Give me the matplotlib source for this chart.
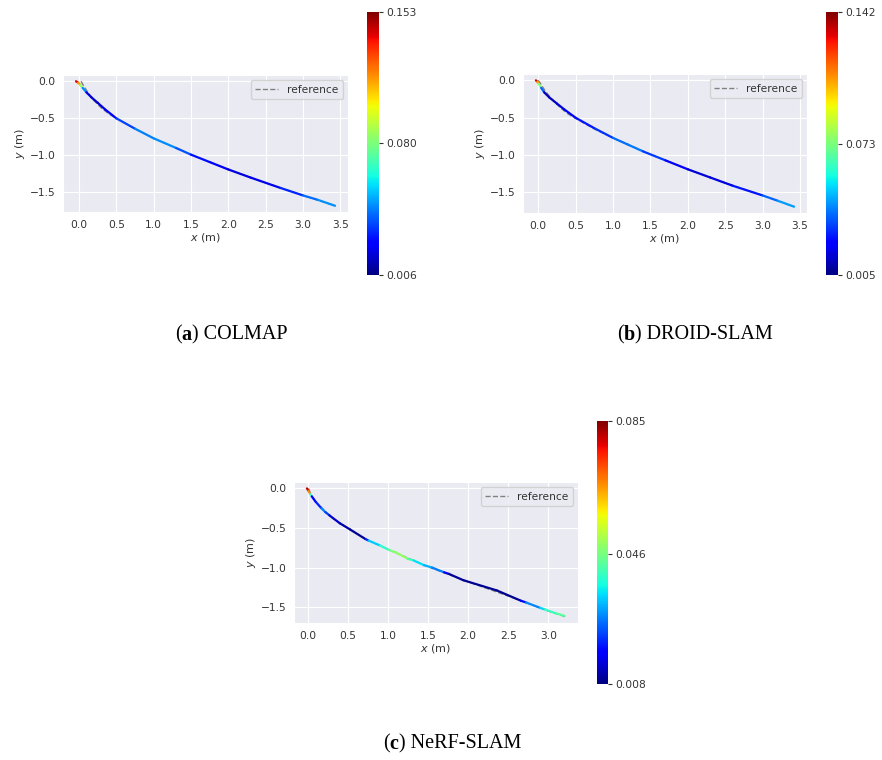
import numpy as np
import matplotlib
matplotlib.use("Agg")
import matplotlib.pyplot as plt
import seaborn as sns
from matplotlib.collections import LineCollection
from matplotlib.colors import Normalize
from matplotlib.cm import ScalarMappable

sns.set_style("darkgrid")
plt.rcParams['font.family'] = ['DejaVu Sans']

# ---------------- data ----------------
# (a) COLMAP
a_x = [-0.04, -0.01, 0.02, 0.05, 0.10, 0.17, 0.25, 0.35, 0.50, 0.75, 1.00, 1.30, 1.50, 1.75, 2.00, 2.30, 2.70, 3.00, 3.20, 3.43]
a_y = [0.00, -0.02, -0.05, -0.09, -0.15, -0.22, -0.29, -0.38, -0.50, -0.64, -0.77, -0.90, -0.99, -1.09, -1.19, -1.30, -1.44, -1.54, -1.60, -1.68]
a_err = [0.153, 0.13, 0.10, 0.07, 0.020, 0.015, 0.016, 0.020, 0.028, 0.040, 0.046, 0.044, 0.028, 0.025, 0.022, 0.015, 0.025, 0.035, 0.045, 0.046]
a_ref_x = [0.03, 0.05, 0.08, 0.12, 0.20, 0.30, 0.40, 0.50, 0.75, 1.00, 1.50, 2.00, 2.50, 3.00, 3.43]
a_ref_y = [0.00, -0.04, -0.09, -0.15, -0.26, -0.36, -0.44, -0.50, -0.64, -0.77, -0.99, -1.19, -1.37, -1.54, -1.68]
a_cbar = [0.006, 0.080, 0.153]

# (b) DROID-SLAM
b_x = [-0.03, -0.01, 0.01, 0.04, 0.08, 0.15, 0.25, 0.35, 0.50, 0.75, 1.00, 1.20, 1.40, 1.70, 2.00, 2.30, 2.60, 3.00, 3.20, 3.42]
b_y = [0.00, -0.02, -0.05, -0.10, -0.16, -0.23, -0.31, -0.39, -0.50, -0.64, -0.77, -0.86, -0.95, -1.07, -1.19, -1.30, -1.41, -1.54, -1.61, -1.69]
b_err = [0.142, 0.12, 0.09, 0.06, 0.012, 0.012, 0.014, 0.018, 0.024, 0.026, 0.032, 0.042, 0.035, 0.025, 0.018, 0.014, 0.020, 0.030, 0.042, 0.044]
b_ref_x = [0.00, 0.03, 0.06, 0.10, 0.20, 0.30, 0.40, 0.50, 0.75, 1.00, 1.50, 2.00, 2.50, 3.00, 3.42]
b_ref_y = [0.00, -0.04, -0.09, -0.15, -0.27, -0.37, -0.45, -0.51, -0.65, -0.77, -0.99, -1.19, -1.37, -1.54, -1.69]
b_cbar = [0.005, 0.073, 0.142]

# (c) NeRF-SLAM
c_x = [-0.01, 0.01, 0.03, 0.05, 0.10, 0.17, 0.22, 0.27, 0.40, 0.53, 0.72, 0.76, 0.90, 1.02, 1.10, 1.25, 1.32, 1.45, 1.55, 1.70, 1.76, 1.94, 2.36, 2.66, 2.72, 2.90, 2.96, 3.10, 3.20]
c_y = [0.00, -0.03, -0.07, -0.10, -0.17, -0.25, -0.30, -0.34, -0.44, -0.52, -0.64, -0.66, -0.72, -0.78, -0.81, -0.89, -0.91, -0.97, -1.00, -1.06, -1.08, -1.16, -1.29, -1.42, -1.44, -1.51, -1.53, -1.58, -1.61]
c_err = [0.085, 0.075, 0.060, 0.020, 0.015, 0.025, 0.030, 0.015, 0.012, 0.010, 0.009, 0.032, 0.034, 0.044, 0.050, 0.047, 0.036, 0.033, 0.029, 0.025, 0.010, 0.010, 0.009, 0.010, 0.026, 0.030, 0.038, 0.042, 0.044]
c_ref_x = [0.01, 0.03, 0.06, 0.12, 0.20, 0.30, 0.40, 0.53, 0.74, 1.00, 1.50, 2.00, 2.50, 3.00, 3.21]
c_ref_y = [0.00, -0.05, -0.11, -0.19, -0.27, -0.37, -0.44, -0.52, -0.65, -0.77, -0.99, -1.18, -1.36, -1.55, -1.62]
c_cbar = [0.008, 0.046, 0.085]

captions = [("(", "a", ") COLMAP"), ("(", "b", ") DROID-SLAM"), ("(", "c", ") NeRF-SLAM")]

# ---------------- layout ----------------
W, H = 882, 760
fig = plt.figure(figsize=(W / 100, H / 100), dpi=100)


def px_axes(l, t, r, b):
    return fig.add_axes([l / W, 1 - b / H, (r - l) / W, (b - t) / H])


TXT = '#333333'
FS = 7.7


def panel(ax_box, cb_box, x, y, err, rx, ry, cticks, xticks):
    ax = px_axes(*ax_box)
    ax.plot(rx, ry, ls='--', color='gray', lw=1.0, label='reference', zorder=2)
    pts = np.column_stack([x, y]).reshape(-1, 1, 2)
    segs = np.concatenate([pts[:-1], pts[1:]], axis=1)
    e = np.asarray(err)
    norm = Normalize(vmin=cticks[0], vmax=cticks[-1])
    lc = LineCollection(segs, cmap='jet', norm=norm, linewidths=1.6, zorder=3,
                        capstyle='round')
    lc.set_array(0.5 * (e[:-1] + e[1:]))
    ax.add_collection(lc)
    ax.autoscale_view()
    ax.set_xticks(xticks)
    ax.set_yticks([0.0, -0.5, -1.0, -1.5])
    ax.tick_params(labelsize=FS, labelcolor=TXT, pad=2)
    ax.set_xlabel(r'$x$ (m)', fontsize=FS + 0.3, color=TXT, labelpad=1)
    ax.set_ylabel(r'$y$ (m)', fontsize=FS + 0.3, color=TXT, labelpad=2)
    leg = ax.legend(loc='upper right', fontsize=FS, handlelength=2.2)
    for t in leg.get_texts():
        t.set_color(TXT)
    cax = px_axes(*cb_box)
    cb = fig.colorbar(ScalarMappable(norm=norm, cmap='jet'), cax=cax, ticks=cticks)
    cb.set_ticklabels([f"{v:.3f}" for v in cticks])
    cb.outline.set_visible(False)
    cax.tick_params(right=True, length=3, width=0.8, color=TXT, labelsize=FS, labelcolor=TXT, pad=2)
    return ax


panel((63, 75, 348, 212), (367, 12, 379, 275), a_x, a_y, a_err, a_ref_x, a_ref_y, a_cbar,
      [0.0, 0.5, 1.0, 1.5, 2.0, 2.5, 3.0, 3.5])
panel((523, 74, 807, 213), (826, 12, 838, 275), b_x, b_y, b_err, b_ref_x, b_ref_y, b_cbar,
      [0.0, 0.5, 1.0, 1.5, 2.0, 2.5, 3.0, 3.5])
panel((294, 482, 578, 623), (597, 421, 608, 684), c_x, c_y, c_err, c_ref_x, c_ref_y, c_cbar,
      [0.0, 0.5, 1.0, 1.5, 2.0, 2.5, 3.0])

# ---------------- captions ----------------
renderer = fig.canvas.get_renderer()


def caption(parts, cx, cy):
    weights = ['normal', 'bold', 'normal']
    texts = []
    for p, w in zip(parts, weights):
        t = fig.text(0, 1 - cy / H, p, fontsize=14.5, family='Liberation Serif',
                     weight=w, color='black', va='center', ha='left')
        texts.append(t)
    widths = [t.get_window_extent(renderer).width for t in texts]
    total = sum(widths)
    x0 = cx - total / 2
    for t, wdt in zip(texts, widths):
        t.set_x(x0 / W)
        x0 += wdt


caption(captions[0], 231, 335)
caption(captions[1], 695, 335)
caption(captions[2], 452, 744)

fig.savefig('out.png', dpi=100)
